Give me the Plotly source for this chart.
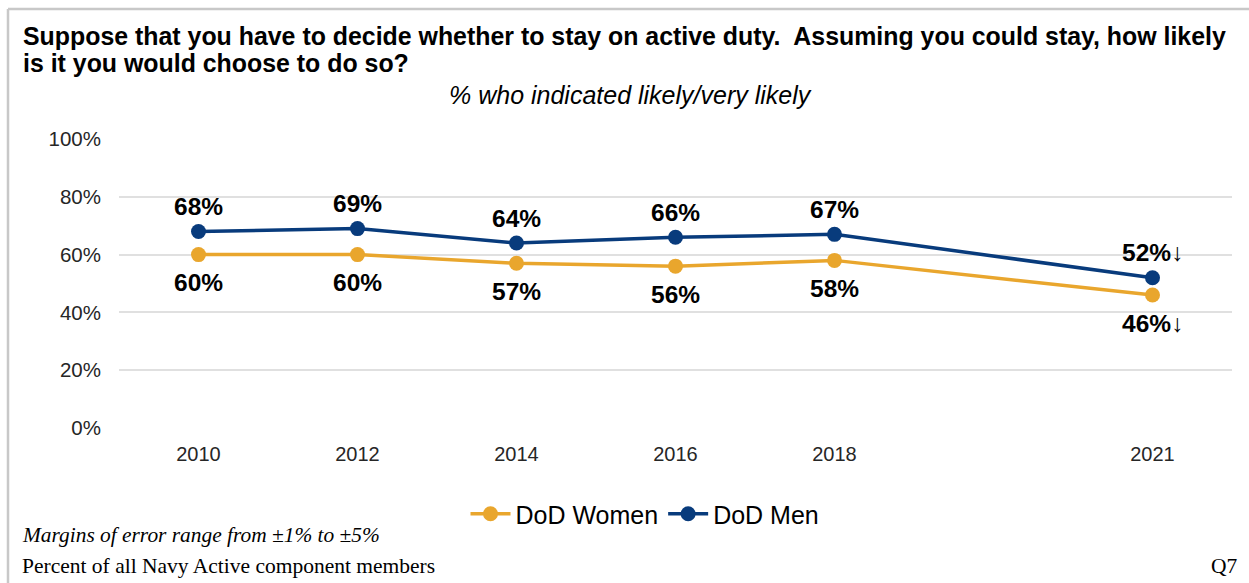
import plotly.graph_objects as go

# Survey years and the axis slots they sit in (blank slot keeps the 2018-2021 gap)
years = ["2010", "2012", "2014", "2016", "2018", "2021"]
axis_slots = ["2010", "2012", "2014", "2016", "2018", "", "2021"]

women = [60, 60, 57, 56, 58, 46]
men = [68, 69, 64, 66, 67, 52]
# Significant decrease flags for the latest year
women_down = [False, False, False, False, False, True]
men_down = [False, False, False, False, False, True]

y_ticks = [0, 20, 40, 60, 80, 100]

title_lines = [
    "Suppose that you have to decide whether to stay on active duty.  Assuming you could stay, how likely",
    "is it you would choose to do so?",
]

W, H = 1249, 583
M_L, M_R, M_T, M_B = 119, 17, 139, 155
PW, PH = W - M_L - M_R, H - M_T - M_B


def px_x(x):
    return (x - M_L) / PW


def px_y(y):
    return (H - M_B - y) / PH


def label(v, down):
    return f"<b>{v}%</b>" + ("↓" if down else "")


xpos = [axis_slots.index(y) for y in years]

NAVY = "#083B7C"
GOLD = "#E9A62D"
LABEL_FONT = dict(family="Liberation Sans, Arial", size=24.5, color="#000000")

fig = go.Figure()
fig.add_trace(go.Scatter(
    x=xpos, y=women, name="DoD Women", mode="lines+markers",
    line=dict(color=GOLD, width=3.5), marker=dict(color=GOLD, size=15),
    cliponaxis=False,
))
fig.add_trace(go.Scatter(
    x=xpos, y=men, name="DoD Men", mode="lines+markers",
    line=dict(color=NAVY, width=3.5), marker=dict(color=NAVY, size=15),
    cliponaxis=False,
))

# Value labels: men above their markers, women below
for xi, v, d in zip(xpos, men, men_down):
    fig.add_annotation(x=xi, y=v, text=label(v, d), showarrow=False,
                       yshift=25, xanchor="center", yanchor="middle", font=LABEL_FONT)
for xi, v, d in zip(xpos, women, women_down):
    fig.add_annotation(x=xi, y=v, text=label(v, d), showarrow=False,
                       yshift=-28, xanchor="center", yanchor="middle", font=LABEL_FONT)

fig.update_layout(
    width=W, height=H,
    margin=dict(l=M_L, r=M_R, t=M_T, b=M_B),
    paper_bgcolor="white", plot_bgcolor="white",
    font=dict(family="Liberation Sans, Arial", color="#262626"),
    xaxis=dict(
        range=[-0.5, len(axis_slots) - 0.5],
        tickvals=list(range(len(axis_slots))), ticktext=axis_slots,
        showgrid=False, zeroline=False, showline=False,
        tickfont=dict(size=20, color="#262626"), ticks="",
        ticklabelstandoff=12,
    ),
    yaxis=dict(
        range=[0, 100], tickvals=y_ticks, ticktext=[f"{t}%" for t in y_ticks],
        showgrid=True, gridcolor="#E0E0E0", gridwidth=1.5,
        zeroline=False, showline=False,
        tickfont=dict(size=20.5, color="#262626"), ticks="",
        ticklabelstandoff=17,
    ),
    legend=dict(
        orientation="h", x=px_x(645), xanchor="center", y=px_y(514), yanchor="middle",
        font=dict(size=25, color="#000000"), itemwidth=40,
        traceorder="normal", bgcolor="rgba(0,0,0,0)",
    ),
    showlegend=True,
)

# Two-line bold question heading
for line, yc in zip(title_lines, [36, 63]):
    fig.add_annotation(
        text=f"<b>{line}</b>", xref="paper", yref="paper",
        x=px_x(21), y=px_y(yc), xanchor="left", yanchor="middle", showarrow=False,
        font=dict(family="Liberation Sans, Arial", size=24.9, color="#000000"),
    )

fig.add_annotation(
    text="<i>% who indicated likely/very likely</i>",
    xref="paper", yref="paper", x=px_x(630), y=px_y(95),
    xanchor="center", yanchor="middle", showarrow=False,
    font=dict(size=25, color="#000000"),
)
fig.add_annotation(
    text="<i>Margins of error range from ±1% to ±5%</i>",
    xref="paper", yref="paper", x=px_x(20), y=px_y(535),
    xanchor="left", yanchor="middle", showarrow=False,
    font=dict(family="Liberation Serif, Times New Roman", size=21.4, color="#000000"),
)
fig.add_annotation(
    text="Percent of all Navy Active component members",
    xref="paper", yref="paper", x=px_x(20), y=px_y(566),
    xanchor="left", yanchor="middle", showarrow=False,
    font=dict(family="Liberation Serif, Times New Roman", size=21.5, color="#000000"),
)
fig.add_annotation(
    text="Q7",
    xref="paper", yref="paper", x=px_x(1240), y=px_y(566),
    xanchor="right", yanchor="middle", showarrow=False,
    font=dict(family="Liberation Serif, Times New Roman", size=21.5, color="#000000"),
)

# Frame lines along the top and left edges
fig.add_shape(type="line", xref="paper", yref="paper",
              x0=px_x(8), x1=px_x(W), y0=px_y(9), y1=px_y(9),
              line=dict(color="#C8C8C8", width=2.5))
fig.add_shape(type="line", xref="paper", yref="paper",
              x0=px_x(8), x1=px_x(8), y0=px_y(9), y1=px_y(H),
              line=dict(color="#C8C8C8", width=2.5))

fig.write_html("out.html")
